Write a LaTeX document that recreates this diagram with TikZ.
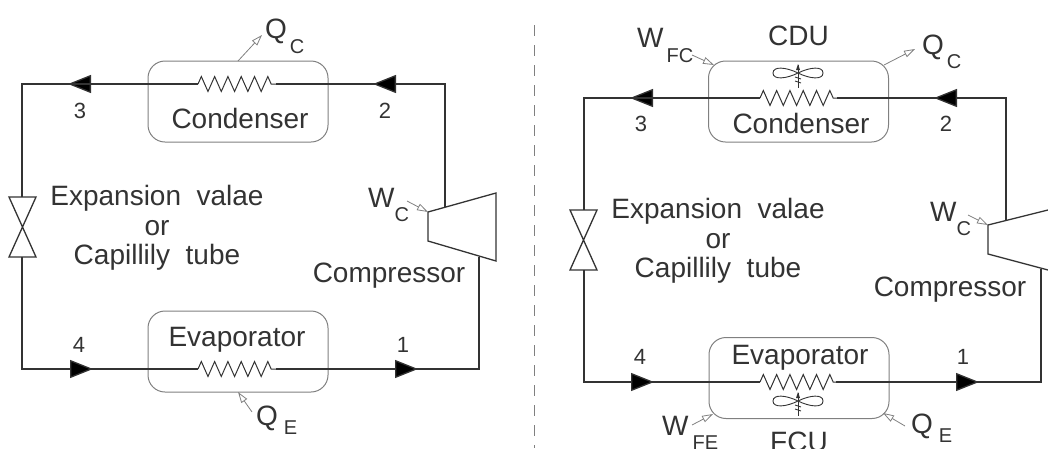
\documentclass[tikz,border=0pt]{standalone}
\usepackage{fontspec}
\setmainfont{Liberation Sans}
\usepackage{xcolor}
\usetikzlibrary{
	arrows.meta,
	calc,
	decorations.pathmorphing
}
\definecolor{inkgray}{HTML}{333333}
\definecolor{boxgray}{HTML}{808080}
\newcommand{\subtxt}[4]{#1\hspace{#4pt}\raisebox{-#3pt}{\fontsize{20}{20}\selectfont #2}}
\tikzset{
	pipe/.style={draw=inkgray, line width=1.3pt},
	flow/.style={pipe, -{Triangle[length=23pt,width=18pt,fill=black]}},
	unitbox/.style={draw=boxgray, line width=1pt, rounded corners=17pt, minimum width=180pt, minimum height=81pt},
	coil/.style={draw=inkgray, line width=1pt, decorate, decoration={zigzag, amplitude=7.5pt, segment length=13.3pt}},
	heat/.style={draw=boxgray, line width=0.8pt, -{Triangle[open,length=11pt,width=7pt]}},
	txt/.style={inner sep=0pt, text=inkgray, font=\fontsize{28}{29.5}\selectfont},
	lbl/.style={txt, anchor=base west},
	unitname/.style={txt, anchor=base},
	num/.style={inner sep=0pt, text=inkgray, font=\fontsize{22}{22}\selectfont},
	fanblade/.style={draw=inkgray, line width=0.9pt}
}
\begin{document}
\begin{tikzpicture}[x=1pt, y=-1pt]
		\useasboundingbox (0,0) rectangle (1048,448);
		\coordinate (L3) at (22,84);
		\coordinate (L2) at (445,84);
		\coordinate (L4) at (22,369);
		\coordinate (L1) at (479,369);
		\coordinate (LVt) at (22,197);
		\coordinate (LVb) at (22,257);
		\coordinate (Lin) at (445,207);
		\coordinate (Lout) at (479,257);
		% left cycle
		\node[unitbox] (LCond) at (238,101.5) {};
		\node[unitbox] (LEvap) at (238,351.5) {};
		\coordinate (LCa) at (198,84);
		\coordinate (LCb) at (276,84);
		\coordinate (LEa) at (198,369);
		\coordinate (LEb) at (276,369);
		\draw[coil] (LCa) -- (LCb);
		\draw[coil] (LEa) -- (LEb);
		\draw[pipe] (Lin)--(L2)--(LCb);
		\draw[flow] (L2)--(373,84);
		\draw[flow] (LCa)--(68,84);
		\draw[pipe] (LCa)--(L3)--(LVt);
		\draw[pipe] (LVb)--(L4)--(LEa);
		\draw[flow] (L4)--(93,369);
		\draw[pipe] (LEb)--(L1)--(Lout);
		\draw[flow] (LEb)--(418,369);
		\draw[pipe, line join=miter] (9,197)--(36,197)--(9,257)--(36,257)--cycle;
		\draw[pipe, line join=miter] (428,212)--(496,193)--(496,261)--(428,241)--cycle;
		\draw[heat] (238,61)--(262,35);
		\draw[heat] (252,412)--(238,392);
		\draw[heat] (407,201)--(428,212);
		\node[lbl] (LQc) at (265,38) {\subtxt{Q}{C}{15}{3}};
		\node[lbl] (LQe) at (256,425) {\subtxt{Q}{E}{9}{6}};
		\node[lbl] (LWc) at (368,207) {\subtxt{W}{C}{14}{0}};
		\node[unitname] (LCtxt) at (240,128) {Condenser};
		\node[unitname] (LEtxt) at (237,346) {Evaporator};
		\node[txt, align=center] (LVtxt) at (157,228) {Expansion\ \ valae\\or\\Capillily\ \ tube};
		\node[unitname] (LCp) at (389,282) {Compressor};
		\node[num] (Ln3) at (80,111) {3};
		\node[num] (Ln2) at (385,111) {2};
		\node[num] (Ln4) at (79,345) {4};
		\node[num] (Ln1) at (403,345) {1};
		% dashed divider
		\coordinate (DivT) at (534,25);
		\coordinate (DivB) at (534,448);
		\draw[boxgray, line width=1pt, dash pattern=on 11pt off 9pt] (DivT) -- (DivB);
		\coordinate (R3) at (584,98);
		\coordinate (R2) at (1006,98);
		\coordinate (R4) at (584,382);
		\coordinate (R1) at (1041,382);
		\coordinate (RVt) at (584,210);
		\coordinate (RVb) at (584,270);
		\coordinate (Rin) at (1006,221);
		\coordinate (Rout) at (1041,269);
		% right cycle
		\node[unitbox] (RCond) at (798.5,101.5) {};
		\node[unitbox] (REvap) at (799,378) {};
		\coordinate (RCa) at (760,98);
		\coordinate (RCb) at (837,98);
		\coordinate (REa) at (760,382);
		\coordinate (REb) at (836,382);
		\draw[coil] (RCa) -- (RCb);
		\draw[coil] (REa) -- (REb);
		\draw[pipe] (Rin)--(R2)--(RCb);
		\draw[flow] (R2)--(934,98);
		\draw[flow] (RCa)--(630,98);
		\draw[pipe] (RCa)--(R3)--(RVt);
		\draw[pipe] (RVb)--(R4)--(REa);
		\draw[flow] (R4)--(654,382);
		\draw[pipe] (REb)--(R1)--(Rout);
		\draw[flow] (REb)--(979,382);
		\draw[pipe, line join=miter] (570,210)--(597,210)--(570,270)--(597,270)--cycle;
		\draw[pipe] (1048,210)--(988,225)--(988,254)--(1048,270);
		\foreach \f/\y in {RFanC/73, RFanE/401}{
			\coordinate (\f) at (798,\y);
			\draw[fanblade] (\f) .. controls ($(\f)+(-12,-6)$) and ($(\f)+(-25,-7)$) .. ($(\f)+(-25,0)$) .. controls ($(\f)+(-25,7)$) and ($(\f)+(-12,6)$) .. (\f);
			\draw[fanblade] (\f) .. controls ($(\f)+(12,-6)$) and ($(\f)+(25,-7)$) .. ($(\f)+(25,0)$) .. controls ($(\f)+(25,7)$) and ($(\f)+(12,6)$) .. (\f);
			\draw[fanblade] ($(\f)+(0,-8)$) -- ($(\f)+(0,15)$);
			\draw[fanblade] ($(\f)+(-3,4)$) -- ($(\f)+(3,6)$);
			\draw[fanblade] ($(\f)+(-3,8)$) -- ($(\f)+(3,10)$);
			\fill[inkgray] ($(\f)+(-2,-3)$) -- ($(\f)+(0,-9)$) -- ($(\f)+(2,-3)$) -- cycle;
		}
		\draw[heat] (884,65)--(915,49);
		\draw[heat] (905,426)--(883,413);
		\draw[heat] (692,55)--(714,65);
		\draw[heat] (968,215)--(988,225);
		\draw[heat] (692,425)--(713,414);
		\node[lbl] (RQc) at (922,54) {\subtxt{Q}{C}{14}{3}};
		\node[lbl] (RQe) at (911,433) {\subtxt{Q}{E}{9}{6}};
		\node[lbl] (RWc) at (930,221) {\subtxt{W}{C}{14}{0}};
		\node[lbl] (RWf) at (637,47) {\subtxt{W}{FC}{15}{3}};
		\node[lbl] (RWe) at (662,435) {\subtxt{W}{FE}{14}{4}};
		\node[unitname] (RCdu) at (798.5,45) {CDU};
		\node[unitname] (RFcu) at (799,451) {FCU};
		\node[unitname] (RCtxt) at (801,133) {Condenser};
		\node[unitname] (REtxt) at (800,364) {Evaporator};
		\node[txt, align=center] (RVtxt) at (718,241) {Expansion\ \ valae\\or\\Capillily\ \ tube};
		\node[unitname] (RCp) at (950,296) {Compressor};
		\node[num] (Rn3) at (641,124) {3};
		\node[num] (Rn2) at (946,124) {2};
		\node[num] (Rn4) at (640,357) {4};
		\node[num] (Rn1) at (963,357) {1};
	\end{tikzpicture}
\end{document}
